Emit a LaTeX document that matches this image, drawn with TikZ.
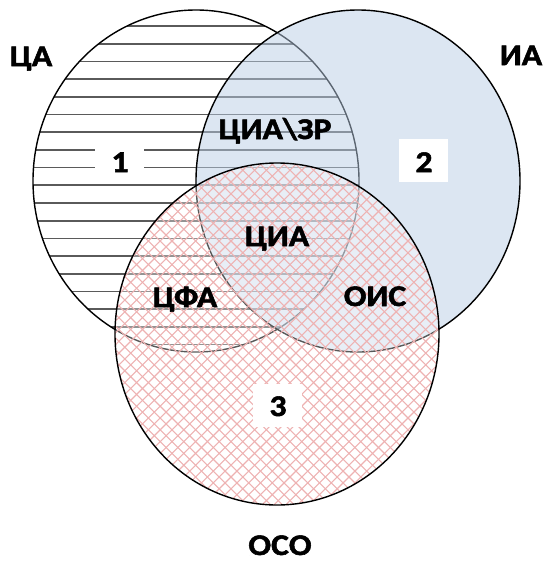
\documentclass[tikz,border=0pt]{standalone}
\usepackage{fontspec}
\newfontfamily\labfont[FakeStretch=1.12,FakeBold=1.8]{Carlito}
\usetikzlibrary{calc,shapes.geometric}
\definecolor{iablue}{RGB}{185,205,229}
\definecolor{hatchgray}{RGB}{90,90,90}
\definecolor{crosspink}{RGB}{238,178,178}
\tikzset{
  circ/.style={draw=black, line width=1.4pt, ellipse, inner sep=0pt},
  lab/.style={font=\labfont\bfseries\fontsize{30}{32}\selectfont, inner sep=0pt, text=black, anchor=base},
  numbox/.style={fill=white, minimum width=49pt, minimum height=43pt, inner sep=0pt}
}
\begin{document}
\begin{tikzpicture}[x=1pt,y=-1pt]
\useasboundingbox (0,0) rectangle (544,562);
% circle 1 (horizontal lines)
\begin{scope}
  \clip (196,181) ellipse [x radius=163, y radius=171];
  \foreach \i in {0,...,19} {
    \draw[hatchgray, line width=1.7pt] (20,{26+17.7*\i}) -- (380,{26+17.7*\i});
  }
\end{scope}
\node[circ, minimum width=326pt, minimum height=342pt] (c1) at (196,181) {};
% circle 2 (blue)
\path[fill=iablue, fill opacity=0.5] (358,181) ellipse [x radius=162, y radius=171];
\node[circ, minimum width=324pt, minimum height=342pt] (c2) at (358,181) {};
% circle 3 (crosshatch)
\path[fill=white, fill opacity=0.35] (277,334) ellipse [x radius=162, y radius=171];
\begin{scope}
  \clip (277,334) ellipse [x radius=162, y radius=171];
  \foreach \c in {0,11.8,...,1100} {
    \draw[crosspink, line width=1.1pt] (\c,0) -- ++(-600,600);
  }
  \foreach \c in {-600,-588.2,...,500} {
    \draw[crosspink, line width=1.1pt] (\c,0) -- ++(600,600);
  }
\end{scope}
\node[circ, minimum width=324pt, minimum height=342pt] (c3) at (277,334) {};
% number boxes
\node[numbox] (b1) at (119,161) {};
\node[numbox] (b2) at (423.5,160.5) {};
\node[numbox] (b3) at (277.5,405.5) {};
\node[lab] (n1) at (120,172) {1};
\node[lab] (n2) at (424,172) {2};
\node[lab] (n3) at (278,416) {3};
% labels
\node[lab] (ca) at (31,66) {ЦА};
\node[lab] (ia) at (521,65) {ИА};
\node[lab] (oso) at (280,555) {ОСО};
\node[lab] (ciazr) at (275,139) {ЦИА\textbackslash ЗР};
\node[lab] (cia) at (277,246) {ЦИА};
\node[lab] (cfa) at (185,307) {ЦФА};
\node[lab] (ois) at (375,306) {ОИС};
\end{tikzpicture}
\end{document}
